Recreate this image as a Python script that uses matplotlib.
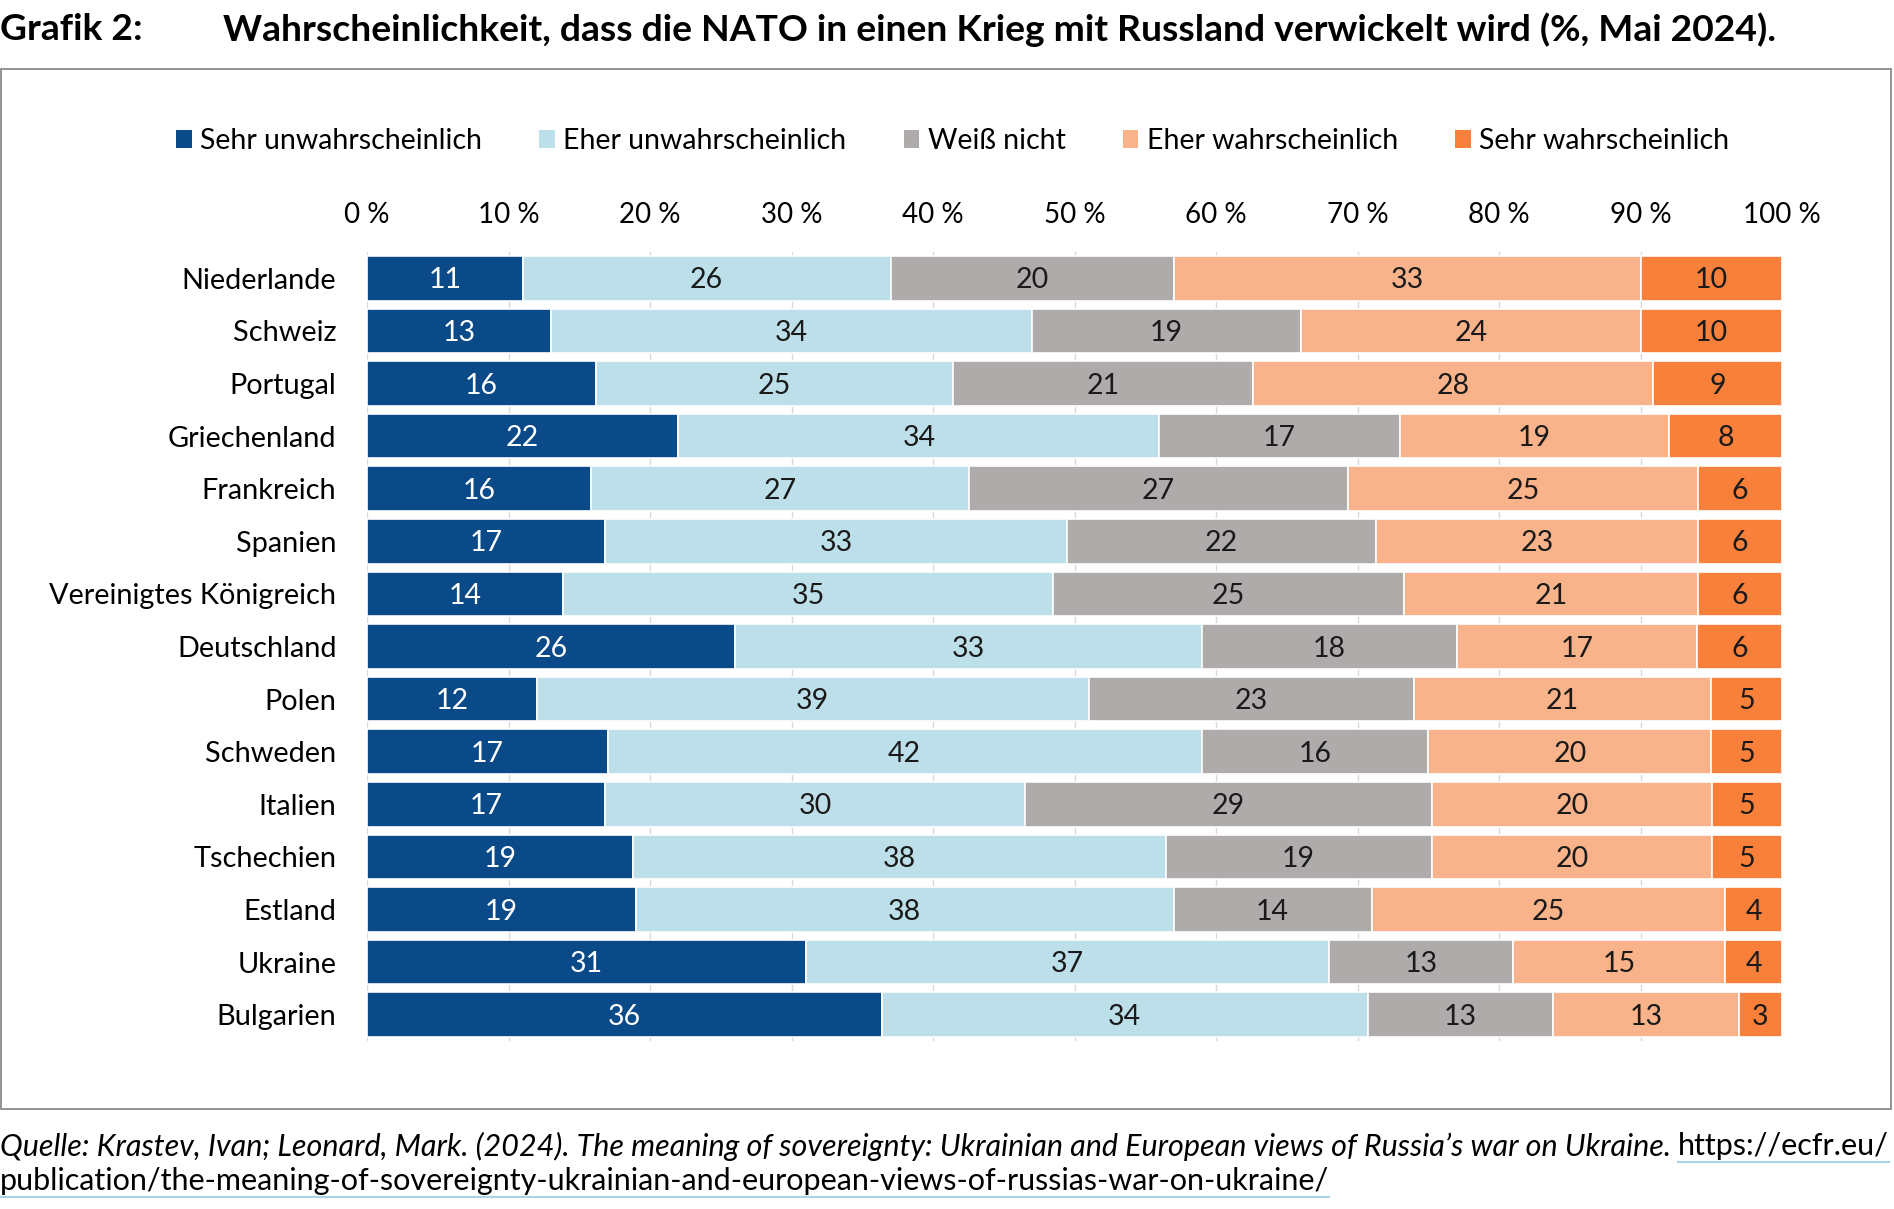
import numpy as np
import matplotlib
matplotlib.use('Agg')
import matplotlib.pyplot as plt
from matplotlib.patches import Rectangle, Patch
from matplotlib.lines import Line2D

plt.rcParams['font.family'] = ['Lato', 'DejaVu Sans']

# ─── Daten ───
countries = ['Niederlande', 'Schweiz', 'Portugal', 'Griechenland', 'Frankreich',
             'Spanien', 'Vereinigtes Königreich', 'Deutschland', 'Polen', 'Schweden',
             'Italien', 'Tschechien', 'Estland', 'Ukraine', 'Bulgarien']
sehr_unwahr = [11, 13, 16, 22, 16, 17, 14, 26, 12, 17, 17, 19, 19, 31, 36]
eher_unwahr = [26, 34, 25, 34, 27, 33, 35, 33, 39, 42, 30, 38, 38, 37, 34]
weiss_nicht = [20, 19, 21, 17, 27, 22, 25, 18, 23, 16, 29, 19, 14, 13, 13]
eher_wahr = [33, 24, 28, 19, 25, 23, 21, 17, 21, 20, 20, 20, 25, 15, 13]
sehr_wahr = [10, 10, 9, 8, 6, 6, 6, 6, 5, 5, 5, 5, 4, 4, 3]

series_names = ['Sehr unwahrscheinlich', 'Eher unwahrscheinlich', 'Weiß nicht',
                'Eher wahrscheinlich', 'Sehr wahrscheinlich']
colors = ['#0b4a89', '#bcdfe9', '#afabab', '#f9b38a', '#f8803b']
text_colors = ['white', '#1a1a1a', '#1a1a1a', '#1a1a1a', '#1a1a1a']

title_left = 'Grafik 2:'
title_main = 'Wahrscheinlichkeit, dass die NATO in einen Krieg mit Russland verwickelt wird (%, Mai 2024).'
source_italic = ('Quelle: Krastev, Ivan; Leonard, Mark. (2024). The meaning of sovereignty: '
                 'Ukrainian and European views of Russia’s war on Ukraine. ')
source_url1 = 'https://ecfr.eu/'
source_url2 = 'publication/the-meaning-of-sovereignty-ukrainian-and-european-views-of-russias-war-on-ukraine/'

W, H = 1894, 1209
fs = 20.5
fig = plt.figure(figsize=(W / 100, H / 100), dpi=100)

# Rahmen um Diagramm
fig.patches.append(Rectangle((1 / W, 1 - 1109 / H), 1890 / W, (1109 - 69) / H,
                             transform=fig.transFigure, fill=False,
                             edgecolor='#808080', linewidth=1.2))

ax = fig.add_axes([367 / W, 1 - 1041 / H, (1782 - 367) / W, (1041 - 252) / H])

data = np.array([sehr_unwahr, eher_unwahr, weiss_nicht, eher_wahr, sehr_wahr], dtype=float)
totals = data.sum(axis=0)
shares = data / totals * 100
y = np.arange(len(countries))
left = np.zeros(len(countries))
for i in range(len(series_names)):
    ax.barh(y, shares[i], left=left, height=0.85, color=colors[i],
            edgecolor='white', linewidth=1.2, zorder=3)
    for j in range(len(countries)):
        ax.text(left[j] + shares[i][j] / 2, y[j] + 0.04, f'{int(data[i][j])}',
                ha='center', va='center', fontsize=fs, color=text_colors[i], zorder=4)
    left += shares[i]

ax.set_xlim(0, 100)
ax.set_ylim(len(countries) - 0.5, -0.5)
ax.set_yticks(y)
ax.set_yticklabels(countries, fontsize=20.8)
ax.xaxis.tick_top()
ax.set_xticks(np.arange(0, 101, 10))
ax.set_xticklabels([f'{v} %' for v in range(0, 101, 10)], fontsize=20)
ax.tick_params(axis='x', length=0, pad=17.5)
ax.tick_params(axis='y', length=0, pad=22)
ax.grid(axis='x', color='#d9d9d9', linewidth=1, zorder=0)
for s in ax.spines.values():
    s.set_visible(False)

# Legende
handles = [Patch(facecolor=c, edgecolor='none') for c in colors]
fig.legend(handles, series_names, loc='center', bbox_to_anchor=(0.503, 1 - 141 / H),
           ncol=5, frameon=False, fontsize=fs, handlelength=0.55, handleheight=0.55,
           handletextpad=0.3, columnspacing=2.0)

# Titel
fig.text(0, 1 - 30 / H, title_left, fontsize=26.8, fontweight='bold', va='center', ha='left')
fig.text(223 / W, 1 - 30 / H, title_main, fontsize=26.8, fontweight='bold', va='center', ha='left')

# Quelle
renderer = fig.canvas.get_renderer()
t1 = fig.text(0, 1 - 1146 / H, source_italic, fontsize=22, style='italic', va='center', ha='left')
bb = t1.get_window_extent(renderer)
t2 = fig.text(bb.x1 / W, 1 - 1146 / H, source_url1, fontsize=22, va='center', ha='left')
bb2 = t2.get_window_extent(renderer)
t3 = fig.text(0, 1 - 1181 / H, source_url2, fontsize=22, va='center', ha='left')
bb3 = t3.get_window_extent(renderer)
for b in (bb2, bb3):
    yl = (b.y0 - 2) / H
    fig.add_artist(Line2D([b.x0 / W, b.x1 / W], [yl, yl], transform=fig.transFigure,
                          color='#a9d3e6', linewidth=1.5))

plt.savefig('out.png', dpi=100)
plt.close()
